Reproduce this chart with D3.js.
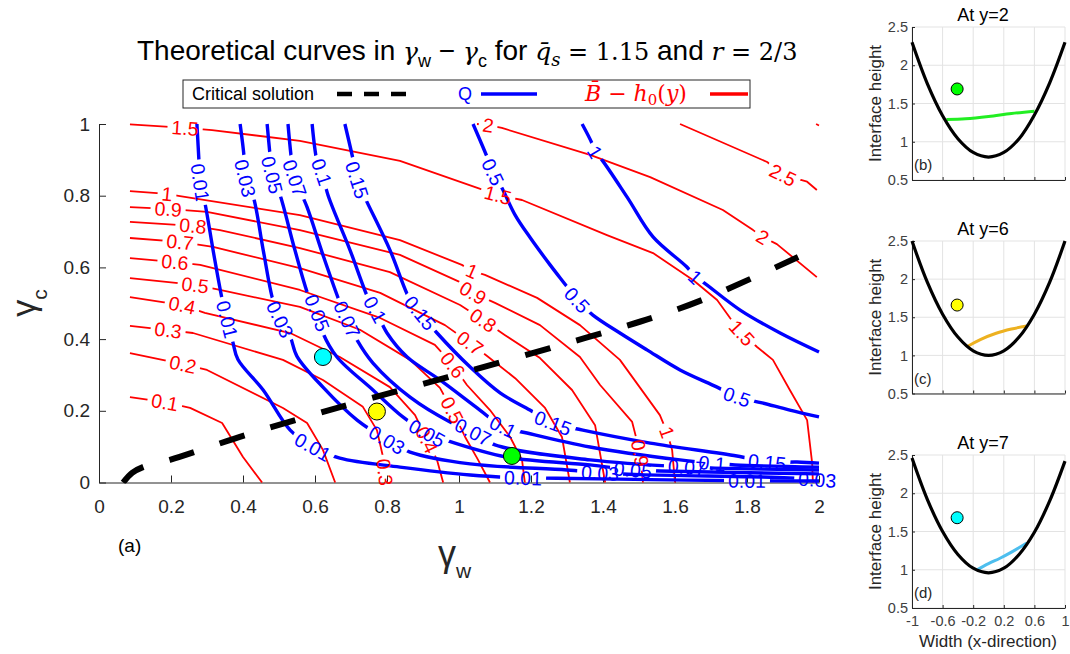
<!DOCTYPE html>
<html><head><meta charset="utf-8">
<script src="https://cdn.jsdelivr.net/npm/d3@7"></script>
<style>
body{margin:0;background:#fff;}
svg{display:block;font-family:"Liberation Sans",Arial,sans-serif;}
</style>
</head><body>
<svg id="c" width="1070" height="654"></svg>
<script>
// ---------------- DATA ----------------
const xTicks = [0,0.2,0.4,0.6,0.8,1,1.2,1.4,1.6,1.8,2];
const xTickLabels = ["0","0.2","0.4","0.6","0.8","1","1.2","1.4","1.6","1.8","2"];
const yTicks = [0,0.2,0.4,0.6,0.8,1];
const yTickLabels = ["0","0.2","0.4","0.6","0.8","1"];

// B̄ - h0(y) contours (red): points [γw, γc], label anchor points
const redContours = [
 {level:"0.1", pts:[[0.086,0.238],[0.183,0.224],[0.253,0.208],[0.342,0.166],[0.400,0.071],[0.453,0]], labels:[[0.183,0.224]]},
 {level:"0.2", pts:[[0.086,0.361],[0.233,0.330],[0.300,0.314],[0.511,0.208],[0.578,0.166],[0.622,0.091],[0.656,0]], labels:[[0.233,0.330]]},
 {level:"0.3", pts:[[0.086,0.437],[0.192,0.425],[0.261,0.417],[0.511,0.342],[0.622,0.286],[0.733,0.211],[0.772,0.146],[0.789,0.071],[0.794,0.029],[0.797,0]], labels:[[0.192,0.425],[0.794,0.029]]},
 {level:"0.4", pts:[[0.086,0.517],[0.231,0.495],[0.294,0.473],[0.531,0.417],[0.669,0.350],[0.808,0.266],[0.878,0.188],[0.911,0.119],[0.939,0.063],[0.956,0]], labels:[[0.231,0.495],[0.911,0.119]]},
 {level:"0.5", pts:[[0.086,0.570],[0.267,0.551],[0.336,0.537],[0.558,0.490],[0.725,0.426],[0.864,0.342],[0.947,0.264],[0.981,0.202],[1.017,0.127],[1.053,0.063],[1.086,0]], labels:[[0.267,0.551],[0.981,0.202]]},
 {level:"0.6", pts:[[0.086,0.626],[0.211,0.615],[0.281,0.607],[0.558,0.537],[0.781,0.459],[0.933,0.384],[0.983,0.328],[1.022,0.272],[1.086,0.202],[1.142,0.127],[1.175,0.063],[1.183,0]], labels:[[0.211,0.615],[0.983,0.328]]},
 {level:"0.7", pts:[[0.086,0.682],[0.225,0.671],[0.317,0.657],[0.558,0.598],[0.781,0.529],[0.961,0.439],[1.031,0.389],[1.078,0.353],[1.156,0.291],[1.239,0.208],[1.286,0.127],[1.308,0]], labels:[[0.225,0.671],[1.031,0.389]]},
 {level:"0.8", pts:[[0.086,0.727],[0.261,0.716],[0.336,0.704],[0.558,0.654],[0.808,0.587],[1.003,0.495],[1.067,0.453],[1.128,0.411],[1.225,0.347],[1.314,0.258],[1.378,0.160],[1.406,0]], labels:[[0.261,0.716],[1.067,0.453]]},
 {level:"0.9", pts:[[0.086,0.768],[0.192,0.763],[0.300,0.755],[0.558,0.704],[0.836,0.635],[1.003,0.559],[1.039,0.529],[1.100,0.501],[1.225,0.439],[1.336,0.350],[1.392,0.272],[1.481,0.169],[1.503,0.082],[1.511,0]], labels:[[0.192,0.763],[1.039,0.529],[1.503,0.082]]},
 {level:"1", pts:[[0.086,0.813],[0.189,0.805],[0.225,0.799],[0.558,0.746],[0.836,0.676],[1.008,0.607],[1.036,0.590],[1.072,0.579],[1.217,0.515],[1.336,0.439],[1.447,0.342],[1.558,0.188],[1.578,0.140],[1.592,0.091],[1.600,0]], labels:[[0.189,0.805],[1.036,0.590],[1.578,0.140]]},
 {level:"1.5", pts:[[0.086,0.999],[0.239,0.989],[0.314,0.983],[0.558,0.953],[0.836,0.897],[1.053,0.821],[1.108,0.802],[1.175,0.788],[1.411,0.690],[1.539,0.640],[1.650,0.565],[1.717,0.509],[1.753,0.459],[1.786,0.417],[1.828,0.378],[1.872,0.342],[1.919,0.258],[1.967,0.174],[1.981,0.054],[1.983,0]], labels:[[0.239,0.989],[1.108,0.802],[1.786,0.417]]},
 {level:"2", pts:[[1.050,1.0],[1.081,0.997],[1.119,0.989],[1.364,0.914],[1.531,0.852],[1.733,0.760],[1.817,0.704],[1.844,0.685],[1.883,0.665],[1.994,0.573]], labels:[[1.081,0.997],[1.844,0.685]]},
 {level:"2.5", pts:[[1.614,1.0],[1.856,0.894],[1.900,0.858],[1.967,0.839],[1.994,0.816]], labels:[[1.900,0.858]]},
 {level:"3", pts:[[1.992,1.0],[2.0,0.996]], labels:[]}
];

// Q contours (blue)
const blueContours = [
 {level:"0.01", pts:[[0.272,1.0],[0.278,0.891],[0.281,0.837],[0.294,0.781],[0.319,0.636],[0.344,0.502],[0.356,0.455],[0.372,0.391],[0.386,0.343],[0.456,0.258],[0.531,0.146],[0.594,0.099],[0.669,0.068],[0.836,0.043],[1.031,0.021],[1.178,0.013],[1.272,0.012],[1.531,0.008],[1.800,0.005],[2.0,0.004]], labels:[[0.281,0.837],[0.356,0.455],[0.594,0.099],[1.178,0.013],[1.800,0.005]]},
 {level:"0.03", pts:[[0.392,1.0],[0.403,0.908],[0.406,0.849],[0.428,0.799],[0.456,0.649],[0.483,0.509],[0.503,0.455],[0.531,0.407],[0.550,0.352],[0.622,0.266],[0.717,0.174],[0.800,0.119],[0.864,0.085],[1.031,0.052],[1.300,0.035],[1.392,0.027],[1.503,0.022],[1.808,0.016],[1.919,0.013],[2.0,0.008]], labels:[[0.406,0.849],[0.503,0.455],[0.800,0.119],[1.392,0.027],[1.995,0.008]]},
 {level:"0.05", pts:[[0.467,1.0],[0.475,0.914],[0.481,0.858],[0.503,0.802],[0.544,0.649],[0.586,0.509],[0.606,0.473],[0.622,0.417],[0.661,0.350],[0.761,0.258],[0.844,0.183],[0.911,0.138],[0.961,0.119],[1.133,0.071],[1.364,0.049],[1.483,0.035],[1.558,0.032],[2.0,0.024]], labels:[[0.481,0.858],[0.606,0.473],[0.911,0.138],[1.483,0.035]]},
 {level:"0.07", pts:[[0.525,1.0],[0.536,0.891],[0.544,0.849],[0.578,0.768],[0.622,0.635],[0.669,0.502],[0.689,0.455],[0.717,0.397],[0.761,0.333],[0.864,0.238],[0.975,0.169],[1.039,0.141],[1.100,0.105],[1.364,0.063],[1.633,0.043],[1.711,0.040],[2.0,0.035]], labels:[[0.544,0.849],[0.689,0.455],[1.039,0.141],[1.633,0.043]]},
 {level:"0.1", pts:[[0.592,1.0],[0.608,0.886],[0.619,0.866],[0.636,0.802],[0.697,0.649],[0.753,0.502],[0.767,0.483],[0.800,0.417],[0.856,0.350],[0.947,0.286],[1.058,0.202],[1.122,0.155],[1.189,0.138],[1.364,0.099],[1.614,0.063],[1.703,0.054],[1.767,0.049],[2.0,0.043]], labels:[[0.619,0.866],[0.767,0.483],[1.122,0.155],[1.703,0.054]]},
 {level:"0.15", pts:[[0.683,1.0],[0.706,0.900],[0.717,0.844],[0.739,0.794],[0.808,0.649],[0.864,0.509],[0.892,0.473],[0.939,0.417],[1.031,0.322],[1.114,0.250],[1.197,0.202],[1.261,0.166],[1.344,0.146],[1.531,0.110],[1.772,0.074],[1.856,0.057],[1.939,0.057],[2.0,0.054]], labels:[[0.717,0.844],[0.892,0.473],[1.261,0.166],[1.856,0.057]]},
 {level:"0.5", pts:[[1.039,1.0],[1.078,0.908],[1.094,0.866],[1.119,0.822],[1.156,0.746],[1.197,0.684],[1.253,0.607],[1.300,0.546],[1.328,0.509],[1.372,0.467],[1.447,0.417],[1.522,0.370],[1.614,0.314],[1.717,0.266],[1.772,0.239],[1.842,0.222],[1.919,0.202],[2.0,0.183]], labels:[[1.094,0.866],[1.328,0.509],[1.772,0.239]]},
 {level:"1", pts:[[1.342,1.0],[1.369,0.947],[1.378,0.922],[1.397,0.900],[1.467,0.796],[1.539,0.685],[1.633,0.601],[1.656,0.573],[1.678,0.559],[1.781,0.481],[1.892,0.417],[2.0,0.364]], labels:[[1.378,0.922],[1.656,0.573]]}
];

// Critical solution (dashed)
const critical = [[0.067,0],[0.092,0.027],[0.122,0.043],[0.197,0.063],[0.406,0.132],[0.689,0.216],[0.969,0.294],[1.253,0.375],[1.536,0.459],[1.675,0.509],[1.814,0.570],[1.942,0.629]];

// marked points
const markX = [0.622, 0.772, 1.147];
const markY = [0.350, 0.198, 0.074];

// side panels
const panelTitles = ["At y=2","At y=6","At y=7"];
const panelTags = ["(b)","(c)","(d)"];
const pXTicks = [-1,-0.6,-0.2,0.2,0.6,1];
const pXTickLabels = ["-1","-0.6","-0.2","0.2","0.6","1"];
const pYTicks = [0.5,1,1.5,2,2.5];
const pYTickLabels = ["0.5","1","1.5","2","2.5"];
const wallX = [-1,-0.8,-0.6,-0.4,-0.2,0,0.2,0.4,0.6,0.8,1];
const wallB = [2.30,1.76,1.34,1.04,0.86,0.80,0.86,1.04,1.35,1.77,2.30];
const wallC = [2.50,1.96,1.54,1.24,1.06,1.00,1.06,1.24,1.54,1.96,2.50];
const wallD = [2.46,1.92,1.50,1.20,1.02,0.96,1.02,1.20,1.49,1.90,2.42];
const surfB = [[-0.55,1.29],[-0.3,1.30],[0,1.33],[0.3,1.37],[0.6,1.40]];
const surfC = [[-0.27,1.12],[-0.1,1.21],[0.1,1.29],[0.3,1.345],[0.5,1.385]];
const surfD = [[-0.15,1.0],[0,1.08],[0.15,1.15],[0.3,1.23],[0.5,1.35]];
const panelDot = [[-0.41,1.69],[-0.41,1.66],[-0.41,1.68]];

// ---------------- STYLE / LAYOUT ----------------
const W=1070,H=654;
const RED="#ff0000", BLUE="#0000ff", AX="#262626";
const dotColors=["#00ffff","#ffff00","#00ff00"];
const svg=d3.select("#c");
const defs=svg.append("defs");
const x=d3.scaleLinear().domain([0,2]).range([99,819]);
const y=d3.scaleLinear().domain([0,1]).range([482.5,124]);
const lineLin=d3.line().x(d=>x(d[0])).y(d=>y(d[1]));
const lineSm=d3.line().x(d=>x(d[0])).y(d=>y(d[1])).curve(d3.curveCatmullRom.alpha(0.5));

defs.append("clipPath").attr("id","pc").append("rect")
  .attr("x",x(0)).attr("y",y(1)-1).attr("width",x(2)-x(0)+1).attr("height",y(0)-y(1)+2);

// axes
const gx=svg.append("g").attr("transform",`translate(0,${y(0)})`)
  .call(d3.axisBottom(x).tickValues(xTicks).tickFormat((d,i)=>xTickLabels[i]).tickSizeInner(-7).tickSizeOuter(0).tickPadding(17));
const gy=svg.append("g").attr("transform",`translate(${x(0)},0)`)
  .call(d3.axisLeft(y).tickValues(yTicks).tickFormat((d,i)=>yTickLabels[i]).tickSizeInner(-7).tickSizeOuter(0).tickPadding(9));
[gx,gy].forEach(g=>{
  g.attr("font-family",null).attr("font-size",null);
  g.select(".domain").attr("stroke",AX);
  g.selectAll(".tick line").attr("stroke",AX);
  g.selectAll(".tick text").attr("fill",AX).attr("font-size",19).attr("font-family","Liberation Sans, Arial, sans-serif");
});

const gLines=svg.append("g").attr("clip-path","url(#pc)");
const gRed=gLines.append("g"), gBlue=gLines.append("g");
const gLab=svg.append("g");
const gRedLab=gLab.append("g"), gBlueLab=gLab.append("g");

function angleFor(pts, lp){
  let k=0,best=1e12;
  pts.forEach((p,i)=>{const d=(x(p[0])-x(lp[0]))**2+(y(p[1])-y(lp[1]))**2; if(d<best){best=d;k=i;}});
  const a=pts[Math.max(0,k-1)], b=pts[Math.min(pts.length-1,k+1)];
  let ang=Math.atan2(y(b[1])-y(a[1]), x(b[0])-x(a[0]))*180/Math.PI;
  if(ang>90) ang-=180; if(ang<-90) ang+=180;
  return ang;
}

function drawSet(list,color,sw,prefix,gL,gT,gen){
  list.forEach((c,i)=>{
    const id=prefix+i;
    const m=defs.append("mask").attr("id",id).attr("maskUnits","userSpaceOnUse")
      .attr("x",0).attr("y",0).attr("width",W).attr("height",H);
    m.append("rect").attr("x",0).attr("y",0).attr("width",W).attr("height",H).attr("fill","#fff");
    c.labels.forEach(lp=>{
      const tr=`translate(${x(lp[0])},${y(lp[1])}) rotate(${angleFor(c.pts,lp)})`;
      const t=gT.append("text").attr("transform",tr).attr("text-anchor","middle").attr("dy","0.36em")
        .attr("fill",color).attr("font-size",19.5).text(c.level);
      const bb=t.node().getBBox();
      m.append("rect").attr("transform",tr).attr("x",bb.x-4).attr("y",bb.y+2)
        .attr("width",bb.width+8).attr("height",bb.height-4).attr("fill","#000");
    });
    gL.append("path").attr("d",gen(c.pts)).attr("fill","none").attr("stroke",color)
      .attr("stroke-width",sw).attr("stroke-linejoin","round").attr("mask",`url(#${id})`);
  });
}
drawSet(redContours,RED,1.8,"mr",gRed,gRedLab,lineLin);
drawSet(blueContours,BLUE,3.4,"mb",gBlue,gBlueLab,lineSm);

// critical dashed
svg.append("path").attr("d",lineSm(critical)).attr("fill","none").attr("stroke","#000")
  .attr("stroke-width",6).attr("stroke-dasharray","26 27").attr("clip-path","url(#pc)");

// marks
svg.append("g").selectAll("circle").data(markX).join("circle")
  .attr("cx",d=>x(d)).attr("cy",(d,i)=>y(markY[i])).attr("r",8.5)
  .attr("fill",(d,i)=>dotColors[i]).attr("stroke","#000").attr("stroke-width",1);

// (a)
svg.append("text").attr("x",118).attr("y",552).attr("font-size",19).attr("fill","#000").text("(a)");

// axis labels
const xl=svg.append("text").attr("x",438).attr("y",566).attr("font-size",36).attr("fill",AX);
xl.append("tspan").text("γ");
xl.append("tspan").attr("font-size",21).attr("dy",12).text("w");
const yl=svg.append("text").attr("transform","translate(35,303) rotate(-90)").attr("text-anchor","middle").attr("font-size",34).attr("fill",AX);
yl.append("tspan").text("γ");
yl.append("tspan").attr("font-size",21).attr("dy",12).text("c");

// title
const tt=svg.append("text").attr("x",137).attr("y",60).attr("font-size",28).attr("fill","#000");
const serif="DejaVu Serif, Liberation Serif, serif";
tt.append("tspan").text("Theoretical curves in ");
tt.append("tspan").attr("font-family",serif).attr("font-style","italic").attr("font-size",25).text("γ");
tt.append("tspan").attr("font-size",18).attr("dy",7).text("w");
tt.append("tspan").attr("dy",-7).text(" − ");
tt.append("tspan").attr("font-family",serif).attr("font-style","italic").attr("font-size",25).text("γ");
tt.append("tspan").attr("font-size",18).attr("dy",7).text("c");
tt.append("tspan").attr("dy",-7).text("  for ");
tt.append("tspan").attr("font-family",serif).attr("font-style","italic").attr("font-size",25).text("q\u0304");
tt.append("tspan").attr("font-family",serif).attr("font-style","italic").attr("font-size",18).attr("dy",6).text("s");
tt.append("tspan").attr("font-family",serif).attr("font-size",24).attr("dy",-6).text(" = 1.15");
tt.append("tspan").text(" and ");
tt.append("tspan").attr("font-family",serif).attr("font-style","italic").attr("font-size",25).text("r");
tt.append("tspan").attr("font-family",serif).attr("font-size",24).text(" = 2/3");

// legend
const lg=svg.append("g");
lg.append("rect").attr("x",183).attr("y",80).attr("width",567).attr("height",28).attr("fill","#fff").attr("stroke",AX).attr("stroke-width",1);
lg.append("text").attr("x",192).attr("y",100).attr("font-size",18).attr("fill","#000").text("Critical solution");
lg.append("line").attr("x1",337).attr("x2",410).attr("y1",94).attr("y2",94).attr("stroke","#000").attr("stroke-width",4.5).attr("stroke-dasharray","15 12");
lg.append("text").attr("x",458).attr("y",100).attr("font-size",18).attr("fill",BLUE).text("Q");
lg.append("line").attr("x1",481).attr("x2",537).attr("y1",94).attr("y2",94).attr("stroke",BLUE).attr("stroke-width",3.5);
const lt=lg.append("text").attr("x",585).attr("y",101).attr("font-size",22).attr("fill",RED).attr("font-family",serif);
lt.append("tspan").attr("font-style","italic").text("B\u0304");
lt.append("tspan").text(" − ");
lt.append("tspan").attr("font-style","italic").text("h");
lt.append("tspan").attr("font-size",15).attr("dy",4).text("0");
lt.append("tspan").attr("dy",-4).text("(");
lt.append("tspan").attr("font-style","italic").text("y");
lt.append("tspan").text(")");
lg.append("line").attr("x1",710).attr("x2",748).attr("y1",94).attr("y2",94).attr("stroke",RED).attr("stroke-width",3.5);

// side panels
const pTop=[27,241,455], pBot=[180,393.5,608];
const walls=[wallB,wallC,wallD], surfs=[surfB,surfC,surfD];
const surfColors=["#22ee22","#edb120","#4dbeee"];
const titleY=[21,235,449];
const px=d3.scaleLinear().domain([-1,1]).range([912,1065]);
for(let i=0;i<3;i++){
  const py=d3.scaleLinear().domain([0.5,2.5]).range([pBot[i],pTop[i]]);
  const g=svg.append("g");
  g.append("g").selectAll("line").data(pXTicks).join("line")
    .attr("x1",d=>px(d)).attr("x2",d=>px(d)).attr("y1",pTop[i]).attr("y2",pBot[i]).attr("stroke","#e3e3e3");
  g.append("g").selectAll("line").data(pYTicks).join("line")
    .attr("x1",912).attr("x2",1065).attr("y1",d=>py(d)).attr("y2",d=>py(d)).attr("stroke","#e3e3e3");
  const ay=g.append("g").attr("transform","translate(912,0)")
    .call(d3.axisLeft(py).tickValues(pYTicks).tickFormat((d,j)=>pYTickLabels[j]).tickSizeInner(-3).tickSizeOuter(0).tickPadding(4));
  const axb=g.append("g").attr("transform",`translate(0,${pBot[i]})`)
    .call(d3.axisBottom(px).tickValues(pXTicks).tickFormat(i===2?((d,j)=>pXTickLabels[j]):(()=>"")).tickSizeInner(-3).tickSizeOuter(0).tickPadding(8));
  [ay,axb].forEach(a=>{
    a.attr("font-family",null).attr("font-size",null);
    a.select(".domain").attr("stroke",AX);
    a.selectAll(".tick line").attr("stroke",AX);
    a.selectAll(".tick text").attr("fill","#404040").attr("font-size",14.5).attr("font-family","Liberation Sans, Arial, sans-serif");
  });
  const wl=d3.line().x(d=>px(d[0])).y(d=>py(d[1])).curve(d3.curveCatmullRom.alpha(0.5));
  g.append("path").attr("d",wl(surfs[i])).attr("fill","none").attr("stroke",surfColors[i]).attr("stroke-width",3);
  g.append("path").attr("d",wl(wallX.map((v,j)=>[v,walls[i][j]]))).attr("fill","none").attr("stroke","#000").attr("stroke-width",3.2);
  g.append("circle").attr("cx",px(panelDot[i][0])).attr("cy",py(panelDot[i][1])).attr("r",6)
    .attr("fill",dotColors[[2,1,0][i]]).attr("stroke","#000").attr("stroke-width",1);
  g.append("text").attr("x",983).attr("y",titleY[i]).attr("text-anchor","middle").attr("font-size",18).attr("fill","#000").text(panelTitles[i]);
  g.append("text").attr("transform",`translate(881,${(pTop[i]+pBot[i])/2}) rotate(-90)`).attr("text-anchor","middle")
    .attr("font-size",17).attr("fill",AX).text("Interface height");
  g.append("text").attr("x",914).attr("y",pBot[i]-10).attr("font-size",15).attr("fill",AX).text(panelTags[i]);
}
svg.append("text").attr("x",988).attr("y",647).attr("text-anchor","middle").attr("font-size",17).attr("fill",AX).text("Width (x-direction)");
</script>
</body></html>
